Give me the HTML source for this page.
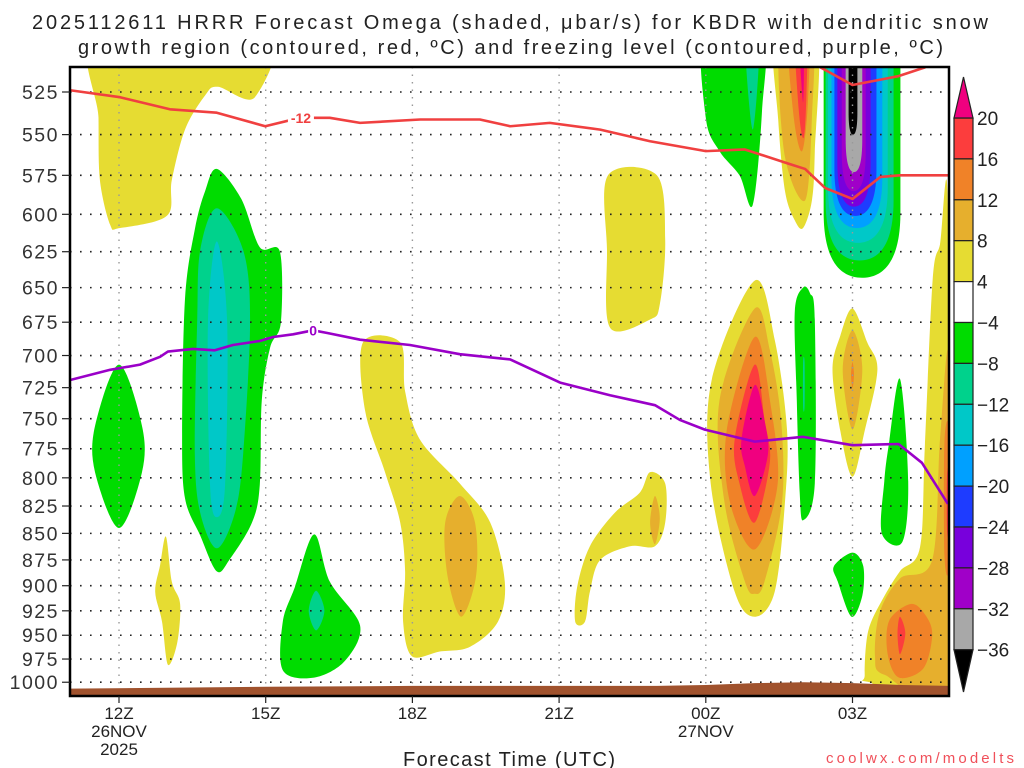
<!DOCTYPE html>
<html><head><meta charset="utf-8"><style>
html,body{margin:0;padding:0;background:#fff;}
svg{display:block;font-family:"Liberation Sans",sans-serif;}
</style></head><body>
<svg id="chart" width="1024" height="768" viewBox="0 0 1024 768" xmlns="http://www.w3.org/2000/svg">
<text x="32" y="29" font-size="20" fill="#222" textLength="956" lengthAdjust="spacing">2025112611 HRRR Forecast Omega (shaded, μbar/s) for KBDR with dendritic snow</text>
<text x="78" y="54" font-size="20" fill="#222" textLength="865" lengthAdjust="spacing">growth region (contoured, red, ºC) and freezing level (contoured, purple, ºC)</text>
<defs><clipPath id="plotclip"><rect x="70" y="67" width="879" height="629"/></clipPath></defs>
<g id="shading" clip-path="url(#plotclip)"></g>
<g id="grid"></g>
<g id="ground" clip-path="url(#plotclip)"></g>
<g id="lines" clip-path="url(#plotclip)"></g>
<rect x="70" y="67" width="879" height="629" fill="none" stroke="#000" stroke-width="2.5"/>
<g id="axes"></g>
<g id="cbar"></g>
<text x="403" y="766" font-size="20" fill="#222" textLength="212" lengthAdjust="spacing">Forecast Time (UTC)</text>
<text x="826" y="763" font-size="15" fill="#f0505a" textLength="188" lengthAdjust="spacing">coolwx.com/modelts</text>
</svg>
<script>
const pressureTicks=[525,550,575,600,625,650,675,700,725,750,775,800,825,850,875,900,925,950,975,1000];
const timeTicks=[12,15,18,21,24,27];
const timeLabels=[["12Z","26NOV","2025"],["15Z"],["18Z"],["21Z"],["00Z","27NOV"],["03Z"]];
const colorLevels=[20,16,12,8,4,-4,-8,-12,-16,-20,-24,-28,-32,-36];
const palette={mag:"#f0007f",red:"#fc3d3d",org:"#f08228",gold:"#e6af2d",yel:"#e6dc32",grn:"#00dc00",teal:"#00d28c",cyan:"#00c8c8",lblu:"#00a0ff",blu:"#1e3cff",vio:"#7800dc",pur:"#a000c8",gray:"#a8a8a8",blk:"#000"};
const cbarColors=["red","org","gold","yel","white","grn","teal","cyan","lblu","blu","vio","pur","gray"];
// contour regions: [level, [[hour,pressure],...]]
const regions=[
["yel",[[11.57,490],[11.58,540],[11.61,578],[11.82,607],[12.02,609],[12.98,601],[13.08,578],[13.35,547],[13.76,527],[14.02,522],[14.78,528],[14.99,490]]],
["grn",[[14.0,571],[14.5,590],[14.88,622],[15.29,625],[15.31,675],[15.09,694],[14.92,735],[14.88,806],[14.72,840],[14.27,874],[14.0,886],[13.66,852],[13.35,818],[13.29,762],[13.35,658],[13.55,610],[13.76,585]]],
["teal",[[14.0,596],[14.54,624],[14.68,674],[14.54,779],[14.37,831],[14.0,864],[13.66,831],[13.55,779],[13.6,674],[13.66,624]]],
["cyan",[[14.0,618],[14.21,674],[14.17,806],[14.0,835],[13.86,806],[13.82,674]]],
["grn",[[12.0,707],[12.47,756],[12.47,795],[12.0,845],[11.51,795],[11.51,756]]],
["yel",[[12.96,853],[13.08,896],[13.25,918],[13.19,958],[13.0,981],[12.88,936],[12.74,906],[12.84,880]]],
["grn",[[15.99,851],[16.31,896],[16.93,940],[16.62,977],[15.99,995],[15.35,987],[15.35,936],[15.6,901]]],
["teal",[[16.03,905],[16.2,925],[16.03,945],[15.88,925]]],
["yel",[[16.99,690],[17.75,690],[17.85,728],[18.15,767],[18.97,805],[19.59,840],[19.89,896],[19.75,936],[19.18,962],[18.56,967],[17.99,972],[17.81,936],[17.85,886],[17.75,840],[17.44,795],[17.03,743]]],
["gold",[[18.97,816],[19.28,840],[19.3,891],[19.0,931],[18.72,891],[18.67,840]]],
["yel",[[22.0,575],[23.0,575],[23.17,617],[23.06,662],[22.86,673],[22.04,679],[21.98,624]]],
["yel",[[22.86,795],[23.17,805],[23.17,840],[22.96,862],[22.45,862],[21.84,875],[21.63,906],[21.53,936],[21.33,936],[21.37,901],[21.63,862],[22.14,831],[22.65,813]]],
["gold",[[22.96,816],[23.06,836],[22.96,860],[22.86,840]]],
["grn",[[23.98,490],[24.0,540],[24.28,560],[24.69,575],[24.96,594],[25.15,536],[25.15,490]]],
["teal",[[24.8,490],[25.1,490],[24.96,547]]],
["yel",[[25.41,490],[25.48,541],[25.62,585],[25.82,604],[25.99,609],[26.17,591],[26.23,560],[26.27,490]]],
["gold",[[25.52,490],[25.6,560],[26.03,591],[26.17,540],[26.17,490]]],
["org",[[25.68,490],[25.8,540],[25.97,560],[26.09,530],[26.09,490]]],
["red",[[25.82,490],[25.9,535],[26.0,552],[26.06,525],[26.06,490]]],
["mag",[[25.9,490],[25.99,531],[26.0,490]]],
["yel",[[25.0,645],[25.41,688],[25.66,759],[25.62,821],[25.41,906],[25.0,931],[24.59,906],[24.1,805],[24.12,719]]],
["gold",[[25.0,665],[25.31,696],[25.54,751],[25.56,821],[25.2,896],[25.0,908],[24.8,896],[24.38,821],[24.28,735]]],
["org",[[25.0,686],[25.31,735],[25.47,805],[25.0,865],[24.49,821],[24.43,759]]],
["red",[[25.0,707],[25.2,751],[25.31,786],[25.0,840],[24.69,805],[24.59,767]]],
["mag",[[25.0,723],[25.2,751],[25.27,780],[25.0,816],[24.8,790],[24.73,767]]],
["grn",[[25.99,650],[26.13,654],[26.23,673],[26.23,805],[25.99,838],[25.92,813],[25.86,735],[25.82,667]]],
["teal",[[25.99,705],[26.02,705],[26.02,740],[25.99,740]]],
["yel",[[27.0,665],[27.3,690],[27.51,711],[27.25,760],[27.0,799],[26.75,760],[26.59,711],[26.75,685]]],
["gold",[[27.0,681],[27.2,711],[27.0,759],[26.8,711]]],
["org",[[27.0,705],[27.03,715],[27.0,725],[26.97,715]]],
["grn",[[27.97,718],[28.14,803],[28.02,858],[27.6,850],[27.65,803],[27.74,772]]],
["grn",[[27.0,868],[27.22,881],[27.2,910],[26.98,931],[26.7,896],[26.62,881]]],
["yel",[[28.95,594],[28.97,1010],[27.35,1000],[27.25,992],[27.32,946],[27.62,913],[27.97,886],[28.38,863],[28.48,772],[28.64,644],[28.79,620]]],
["gold",[[28.97,703],[28.97,1000],[27.66,992],[27.46,972],[27.56,926],[27.97,893],[28.63,875],[28.79,767]]],
["org",[[28.2,918],[28.5,930],[28.63,950],[28.45,985],[27.95,995],[27.72,970],[27.75,935]]],
["org",[[28.88,770],[28.97,760],[28.97,880],[28.88,870]]],
["red",[[27.97,931],[28.08,948],[27.97,970],[27.92,948]]],
["red",[[28.93,800],[28.97,795],[28.97,850],[28.93,845]]]
];
// 03Z column nested contours: level, left hour, right hour, bottom pressure
const colLevels=["grn","teal","cyan","lblu","blu","vio","pur","gray","blk"];
const colLeft=[26.41,26.45,26.5,26.57,26.63,26.69,26.78,26.86,26.92];
const colRight=[27.98,27.84,27.72,27.61,27.49,27.37,27.27,27.2,27.1];
const colBottom=[643,631,619,609,601,595,585,573,550];
const groundHours=[11,15,18,21,23,24,25,26,27,28,29];
const groundP=[1007,1005,1004,1004,1004,1003,1001,1000,1001,1003,1004];
const dgzHours=[11.0,12.02,13.04,14.0,14.99,15.7,16.31,16.93,18.16,19.38,20.0,20.81,21.84,22.86,24.0,24.8,25.72,26.03,26.44,27.0,27.57,27.98,28.98];
const dgzP=[524,528,535,537,545,540,540,543,541,541,545,543,547,554,560,559,568,571,583,590,576,575,575];
const dgz2Hours=[26.34,27.0,27.94,28.49];
const dgz2P=[511,521,516,511];
const frzHours=[11.0,11.82,12.43,12.84,13.0,13.51,13.96,14.33,14.88,15.15,15.56,15.97,16.26,16.93,17.95,18.97,20.0,21.02,22.04,22.96,23.47,23.98,25.0,25.99,27.0,27.94,28.42,28.95];
const frzP=[719,711,707,701,697,695,696,692,689,686,684,681,683,688,692,699,703,721,731,739,751,759,769,765,772,771,787,823];

const NS="http://www.w3.org/2000/svg";
const X=h=>119+(h-12)*48.9;
const Y=p=>92+916*Math.log(p/525);
function mk(tag,attrs,parent){const e=document.createElementNS(NS,tag);for(const k in attrs)e.setAttribute(k,attrs[k]);parent.appendChild(e);return e;}
function smoothClosed(pts){
  const n=pts.length;let d=`M${pts[0][0].toFixed(1)},${pts[0][1].toFixed(1)}`;
  for(let i=0;i<n;i++){const p0=pts[(i-1+n)%n],p1=pts[i],p2=pts[(i+1)%n],p3=pts[(i+2)%n];const t=0.16;
    d+=`C${(p1[0]+(p2[0]-p0[0])*t).toFixed(1)},${(p1[1]+(p2[1]-p0[1])*t).toFixed(1)} ${(p2[0]-(p3[0]-p1[0])*t).toFixed(1)},${(p2[1]-(p3[1]-p1[1])*t).toFixed(1)} ${p2[0].toFixed(1)},${p2[1].toFixed(1)}`;}
  return d+"Z";}
const shading=document.getElementById('shading');
regions.forEach((r)=>{
  const pts=r[1].map(q=>[X(q[0]),Y(q[1])]);
  const e=mk('path',{d:smoothClosed(pts),fill:palette[r[0]]},shading);
  
  
});
colLevels.forEach((lv,i)=>{
  const L=X(colLeft[i]),R=X(colRight[i]),B=Y(colBottom[i]),T=60,C=(L+R)/2;
  const mid=B-(B-T)*0.3;
  const d=`M${L},${T}L${L},${mid}C${L},${B-(B-mid)*0.2} ${C-(C-L)*0.5},${B} ${C},${B}C${C+(R-C)*0.5},${B} ${R},${B-(B-mid)*0.2} ${R},${mid}L${R},${T}Z`;
  const e=mk('path',{d:d,fill:palette[lv]},shading);
  
  
});
const grid=document.getElementById('grid');
pressureTicks.forEach(p=>{const e=mk('line',{x1:70,x2:949,y1:Y(p),y2:Y(p),stroke:"#222","stroke-width":1.6,"stroke-dasharray":"1.6 8.4"},grid);
  });
timeTicks.forEach(h=>{const e=mk('line',{x1:X(h),x2:X(h),y1:67,y2:696,stroke:"#999","stroke-width":1.4,"stroke-dasharray":"1.5 6"},grid);
  });
const gpts=groundHours.map((h,i)=>`${X(h)},${Y(groundP[i])}`);
const g=mk('polygon',{points:`${X(groundHours[0])},700 `+gpts.join(' ')+` ${X(groundHours[groundHours.length-1])},700`,fill:"#a0522d"},document.getElementById('ground'));

const lines=document.getElementById('lines');
function line(hs,ps,color,name){const e=mk('polyline',{points:hs.map((h,i)=>`${X(h)},${Y(ps[i])}`).join(' '),fill:"none",stroke:color,"stroke-width":2.6,"stroke-linejoin":"round"},lines);
  }
line(dgzHours,dgzP,"#f04040","dgz-minus12-contour");
line(dgz2Hours,dgz2P,"#f04040","dgz-minus12-contour-top");
line(frzHours,frzP,"#9a00c8","freezing-level-contour");
let lb=mk('rect',{x:X(15.7)-12,y:Y(540)-8,width:26,height:15,fill:"#fff"},lines);

lb=mk('text',{x:X(15.7)+1,y:Y(540)+5,"font-size":14,"font-weight":"bold","text-anchor":"middle",fill:"#f04040"},lines);lb.textContent="-12";

lb=mk('rect',{x:X(15.97)-5,y:Y(681)-8,width:10,height:15,fill:"#fff"},lines);

lb=mk('text',{x:X(15.97),y:Y(681)+5,"font-size":14,"font-weight":"bold","text-anchor":"middle",fill:"#9a00c8"},lines);lb.textContent="0";

const axes=document.getElementById('axes');
pressureTicks.forEach(p=>{
  const t=mk('line',{x1:62,x2:70,y1:Y(p),y2:Y(p),stroke:"#222","stroke-width":1.2},axes);
  
  const e=mk('text',{x:59,y:Y(p)+7,"font-size":19.5,"text-anchor":"end","letter-spacing":"1.5",fill:"#333"},axes);e.textContent=p;
  });
timeTicks.forEach((h,i)=>{
  const t=mk('line',{x1:X(h),x2:X(h),y1:696,y2:703,stroke:"#222","stroke-width":1.2},axes);
  
  timeLabels[i].forEach((s,j)=>{const e=mk('text',{x:X(h),y:719+j*18,"font-size":17,"text-anchor":"middle",fill:"#222"},axes);e.textContent=s;
    });});
const cb=document.getElementById('cbar');
const cellTop=118,cellH=40.9,cx0=954,cw=19;
cbarColors.forEach((c,i)=>{const e=mk('rect',{x:cx0,y:cellTop+i*cellH,width:cw,height:cellH,fill:c==="white"?"#fff":palette[c],stroke:"#222","stroke-width":1.2},cb);
  });
let tri=mk('polygon',{points:`${cx0},${cellTop} ${cx0+cw/2},77 ${cx0+cw},${cellTop}`,fill:palette.mag,stroke:"#222","stroke-width":1.2},cb);

const cbBot=cellTop+cbarColors.length*cellH;
tri=mk('polygon',{points:`${cx0},${cbBot} ${cx0+cw/2},692 ${cx0+cw},${cbBot}`,fill:"#000",stroke:"#222","stroke-width":1.2},cb);

colorLevels.forEach((v,i)=>{const e=mk('text',{x:977,y:cellTop+i*cellH+7,"font-size":19,fill:"#222"},cb);
  e.textContent=v<0?"\u2212"+Math.abs(v):String(v);
  });
</script>
</body></html>
